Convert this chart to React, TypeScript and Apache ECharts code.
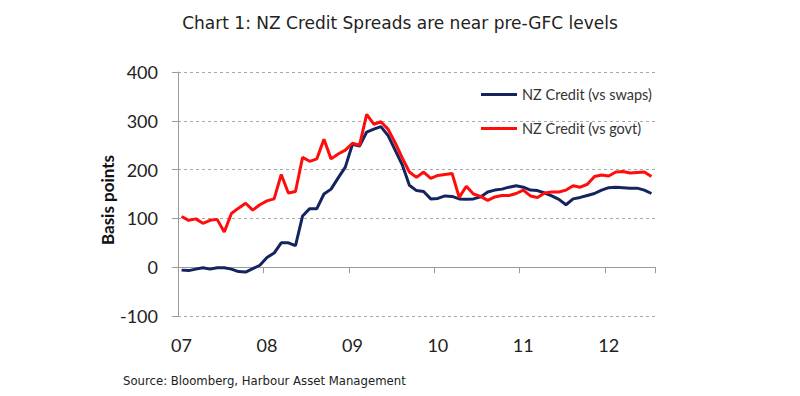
import React, { useEffect, useRef } from "react";
import * as echarts from "echarts";

const yearLabels = ["07", "08", "09", "10", "11", "12"];
const monthCount = 67;

const swapsSpread = [
  -6, -7, -4, -1, -4, -1, -1, -4, -9, -10, -3, 4,
  20, 29, 50, 50, 44, 105, 120, 120, 150, 160, 183, 205,
  252, 248, 277, 283, 288, 270, 240, 210, 168, 157, 155, 140,
  141, 146, 145, 140, 139, 140, 144, 154, 158, 160, 164, 167,
  164, 158, 157, 152, 146, 139, 128, 140, 143, 147, 151, 158,
  163, 164, 163, 162, 162, 158, 151,
];

const govtSpread = [
  104, 96, 99, 90, 96, 98, 72, 110, 121, 131, 117, 128,
  136, 140, 190, 152, 155, 225, 217, 222, 262, 222, 232, 240,
  254, 250, 313, 293, 298, 283, 255, 224, 195, 184, 195, 182,
  188, 190, 192, 143, 166, 150, 145, 137, 144, 147, 147, 151,
  158, 146, 143, 152, 154, 154, 158, 167, 164, 170, 186, 189,
  187, 195, 196, 193, 194, 195, 186,
];

const seriesNames = ["NZ Credit (vs swaps)", "NZ Credit (vs govt)"];
const seriesColors = ["#14245f", "#ff0d0d"];
const yTicks = { min: -100, max: 400, interval: 100 };

const months: string[] = [];
yearLabels.forEach((y) => {
  for (let m = 1; m <= 12; m++) months.push(y + "-" + String(m).padStart(2, "0"));
});
const categories = months.slice(0, monthCount);

export default function App() {
  const ref = useRef<HTMLDivElement>(null);
  useEffect(() => {
    if (!ref.current) return;
    const chart = echarts.init(ref.current, null, { renderer: "svg" });
    const labelFont = "Lato, 'Open Sans', sans-serif";
    chart.setOption({
      animation: false,
      backgroundColor: "#ffffff",
      title: {
        text: "Chart 1: NZ Credit Spreads are near pre-GFC levels",
        left: "center",
        top: 9,
        textStyle: {
          fontFamily: "DejaVu Sans",
          fontSize: 17,
          fontWeight: "normal",
          color: "#222",
        },
      },
      legend: {
        orient: "vertical",
        left: 476,
        top: 82,
        itemWidth: 36,
        itemHeight: 3,
        itemGap: 19,
        icon: "rect",
        textStyle: { fontFamily: labelFont, fontSize: 14.5, color: "#333" },
        data: seriesNames,
      },
      grid: { left: 178, right: 145, top: 72, bottom: 80, containLabel: false },
      xAxis: [
        {
          type: "category",
          data: categories,
          boundaryGap: true,
          position: "bottom",
          axisLine: { show: true, onZero: true, lineStyle: { color: "#9a9a9a", width: 1 } },
          axisTick: { show: true, interval: 11, length: 6, lineStyle: { color: "#9a9a9a" } },
          axisLabel: { show: false },
          splitLine: { show: false },
        },
        {
          type: "category",
          data: categories,
          boundaryGap: true,
          position: "bottom",
          axisLine: { show: false, onZero: false },
          axisTick: { show: false },
          axisLabel: {
            show: true,
            interval: 11,
            margin: 20,
            fontFamily: labelFont,
            fontSize: 18,
            color: "#222",
            formatter: (v: string) => v.split("-")[0],
          },
          splitLine: { show: false },
        },
      ],
      yAxis: {
        type: "value",
        min: yTicks.min,
        max: yTicks.max,
        interval: yTicks.interval,
        axisLine: { show: true, lineStyle: { color: "#9a9a9a" } },
        axisTick: { show: true, length: 6, lineStyle: { color: "#9a9a9a" } },
        axisLabel: { margin: 20, fontFamily: labelFont, fontSize: 18, color: "#222" },
        splitLine: { show: true, lineStyle: { color: "#a8a8a8", type: [3, 3], width: 1 } },
      },
      graphic: [
        {
          type: "text",
          x: 107,
          y: 200,
          rotation: Math.PI / 2,
          style: {
            text: "Basis points",
            fontFamily: labelFont,
            fontSize: 17,
            fontWeight: "bold",
            fill: "#111",
            align: "center",
            verticalAlign: "middle",
          },
        },
        {
          type: "text",
          x: 123,
          y: 381,
          style: {
            text: "Source: Bloomberg, Harbour Asset Management",
            fontFamily: "DejaVu Sans",
            fontSize: 11.7,
            fill: "#222",
            align: "left",
            verticalAlign: "middle",
          },
        },
      ],
      series: [
        {
          name: seriesNames[0],
          type: "line",
          xAxisIndex: 0,
          data: swapsSpread,
          symbol: "none",
          lineStyle: { color: seriesColors[0], width: 3 },
          itemStyle: { color: seriesColors[0] },
        },
        {
          name: seriesNames[1],
          type: "line",
          xAxisIndex: 0,
          data: govtSpread,
          symbol: "none",
          lineStyle: { color: seriesColors[1], width: 3 },
          itemStyle: { color: seriesColors[1] },
        },
      ],
    });
    return () => chart.dispose();
  }, []);
  return <div ref={ref} style={{ width: 800, height: 396, position: "absolute", left: 0, top: 0 }} />;
}
